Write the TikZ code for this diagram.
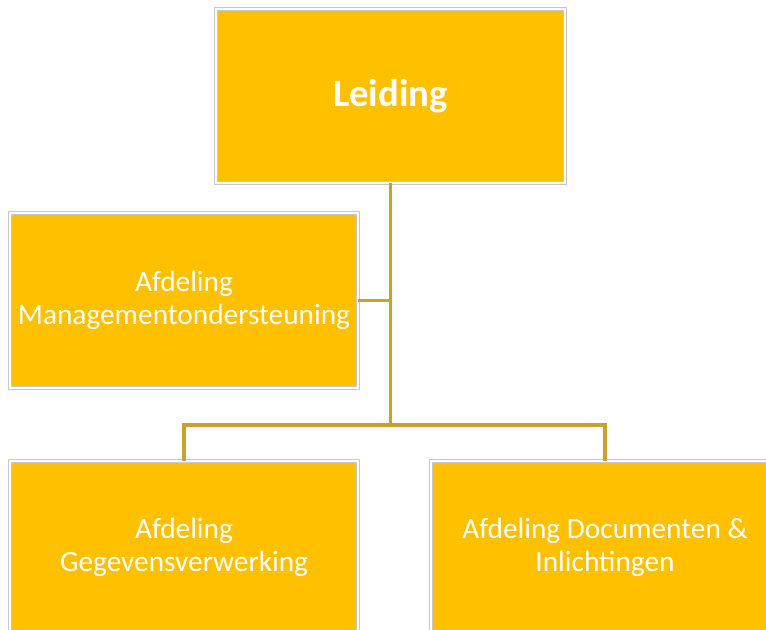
\documentclass[tikz,border=0pt]{standalone}
\usepackage{fontspec}
\setmainfont{Carlito}
\definecolor{boxfill}{HTML}{FFC000}
\definecolor{linkcol}{HTML}{C9A12E}
\definecolor{rim}{HTML}{C8C8C8}
\begin{document}
\begin{tikzpicture}[x=0.75pt,y=-0.75pt,
  orgbox/.style={rectangle, fill=boxfill, draw=rim, line width=0.5pt, double=white, double distance=1.3pt,
    inner sep=0pt, align=center, text=white, font=\fontsize{22}{24.5}\selectfont},
  link/.style={draw=linkcol, line width=2.3pt}]
\useasboundingbox (0,0) rectangle (766,629);
\clip (0,0) rectangle (766,629);
\node[orgbox, minimum width=261.75pt, minimum height=130.5pt, font=\fontsize{29}{32}\selectfont\bfseries] (lead) at (390.5,96) {Leiding};
\node[orgbox, minimum width=261pt, minimum height=131.25pt] (mgmt) at (184,300.5) {Afdeling\\Managementondersteuning};
\node[orgbox, minimum width=261pt, minimum height=129.75pt] (gegev) at (184,547.5) {Afdeling\\Gegevensverwerking};
\node[orgbox, minimum width=261pt, minimum height=129.75pt] (docs) at (605,547.5) {Afdeling Documenten \&\\Inlichtingen};
\coordinate (hub) at (390.5,425);
\draw[link] (lead.south) -- (hub);
\draw[link] (mgmt.east) -| (hub);
\draw[link] (gegev.north) |- (hub) -| (docs.north);
\end{tikzpicture}
\end{document}
